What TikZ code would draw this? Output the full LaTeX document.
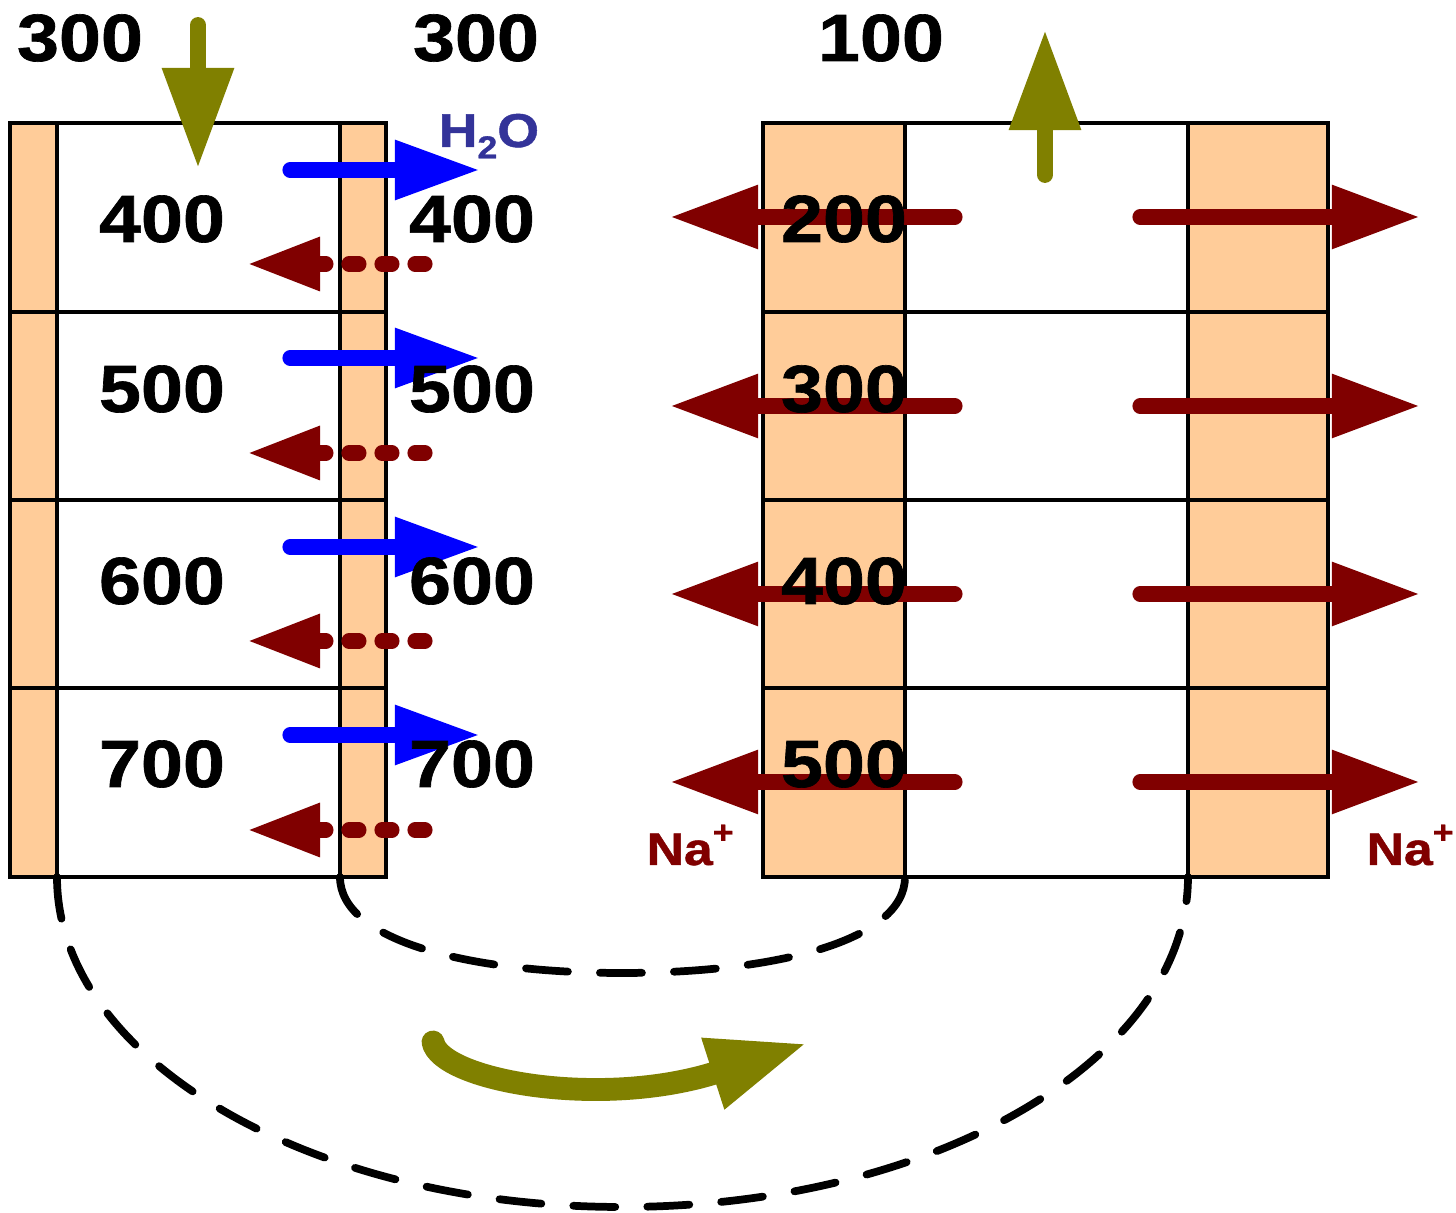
\documentclass[tikz,border=0pt]{standalone}
\usepackage{fontspec}
\newfontfamily\heavy[FakeStretch=1.13,FakeBold=1]{Liberation Sans Bold}
\usetikzlibrary{arrows.meta}
\definecolor{wallfill}{HTML}{FFCC99}
\definecolor{olivearrow}{HTML}{808000}
\definecolor{ionred}{HTML}{800000}
\definecolor{waterblue}{HTML}{0000FF}
\definecolor{labelblue}{HTML}{333399}
\tikzset{
  wall/.style={fill=wallfill, draw=black, line width=0.9pt},
  rim/.style={draw=black, line width=0.9pt},
  num/.style={font=\heavy\fontsize{19}{19}\selectfont, inner sep=0pt},
  ion/.style={font=\heavy\fontsize{13}{13}\selectfont, text=ionred, inner sep=0pt},
  flow/.style={olivearrow, line width=4.5pt, line cap=round, -{Triangle[length=1cm,width=0.68cm]}},
  water/.style={waterblue, line width=4.3pt, line cap=round, -{Triangle[length=0.85cm,width=0.56cm]}},
  leak/.style={ionred, line width=4.3pt, line cap=round, dash pattern=on 0.1cm off 0.23cm, -{Triangle[length=0.73cm,width=0.5cm]}},
  pump/.style={ionred, line width=4.3pt, line cap=round, -{Triangle[length=0.88cm,width=0.6cm]}},
  circuit/.style={black, line width=2.2pt, line cap=round, dash pattern=on 0.42cm off 0.32cm},
}
\begin{document}
\begin{tikzpicture}[x=0.01cm,y=-0.01cm]
        \useasboundingbox (0,0) rectangle (1456,1213);
        \fill[white] (0,0) rectangle (1456,1213);
        \filldraw[wall] (10,123) rectangle (57,877);
        \filldraw[wall] (340,123) rectangle (386,877);
        \draw[rim] (10,123) rectangle (386,877);
        \filldraw[wall] (763,123) rectangle (905,877);
        \filldraw[wall] (1188,123) rectangle (1328,877);
        \draw[rim] (763,123) rectangle (1328,877);
        \foreach \y in {312,500,688} {
                \draw[rim] (10,\y) -- (386,\y);
                \draw[rim] (763,\y) -- (1328,\y);
            }
        \coordinate (desc-out) at (57,877);
        \coordinate (desc-in) at (340,877);
        \coordinate (asc-in) at (905,877);
        \coordinate (asc-out) at (1188,877);
        \draw[circuit] (desc-out) .. controls (57,1059) and (310,1207) .. (622,1207)
                .. controls (934,1207) and (1188,1059) .. (asc-out);
        \draw[circuit] (desc-in) .. controls (340,940) and (466,973) .. (622,973)
                .. controls (778,973) and (905,940) .. (asc-in);
        \coordinate (feed) at (198,25);
        \coordinate (feed-tip) at (198,168);
        \coordinate (exit) at (1045,175);
        \coordinate (exit-tip) at (1045,30);
        \coordinate (turn) at (433,1042);
        \coordinate (turn-tip) at (808,1043);
        \draw[flow] (feed) -- (feed-tip);
        \draw[flow] (exit) -- (exit-tip);
        \draw[flow, line width=6.5pt] (turn) .. controls (440,1080) and (600,1110) .. (turn-tip);
        \foreach \i/\y in {1/170, 2/358, 3/547, 4/735} {
                \coordinate (h2o-\i) at (290,\y);
                \coordinate (h2o-tip-\i) at (480,\y);
                \draw[water] (h2o-\i) -- (h2o-tip-\i);
            }
        \foreach \i/\y in {1/264, 2/453, 3/641, 4/830} {
                \coordinate (back-\i) at (425,\y);
                \coordinate (back-tip-\i) at (247,\y);
                \draw[leak] (back-\i) -- (back-tip-\i);
            }
        \foreach \i/\y in {1/217, 2/406, 3/594, 4/782} {
                \coordinate (na-a-\i) at (955,\y);
                \coordinate (na-a-tip-\i) at (670,\y);
                \coordinate (na-b-\i) at (1140,\y);
                \coordinate (na-b-tip-\i) at (1420,\y);
                \draw[pump] (na-a-\i) -- (na-a-tip-\i);
                \draw[pump] (na-b-\i) -- (na-b-tip-\i);
            }
        \node[num] (top-desc) at (80,38) {300};
        \node[num] (top-mid) at (476,38) {300};
        \node[num] (top-asc) at (881,38) {100};
        \foreach \i/\a/\b/\c/\y in {1/400/400/200/219, 2/500/500/300/389, 3/600/600/400/581, 4/700/700/500/764} {
                \node[num] (tube-\i) at (162,\y) {\a};
                \node[num] (fluid-\i) at (472,\y) {\b};
                \node[num] (asc-\i) at (844,\y) {\c};
            }
        \node[font=\heavy\fontsize{13.5}{13.5}\selectfont, text=labelblue, inner sep=0pt, anchor=base west]
                (h2o) at (438,147) {H\raisebox{-0.45ex}{\fontsize{9}{9}\selectfont 2}O};
        \node[ion, anchor=base west] (na-left) at (646,865) {Na\raisebox{0.9ex}{\fontsize{9}{9}\selectfont +}};
        \node[ion, anchor=base west] (na-right) at (1366,865) {Na\raisebox{0.9ex}{\fontsize{9}{9}\selectfont +}};
    \end{tikzpicture}
\end{document}
